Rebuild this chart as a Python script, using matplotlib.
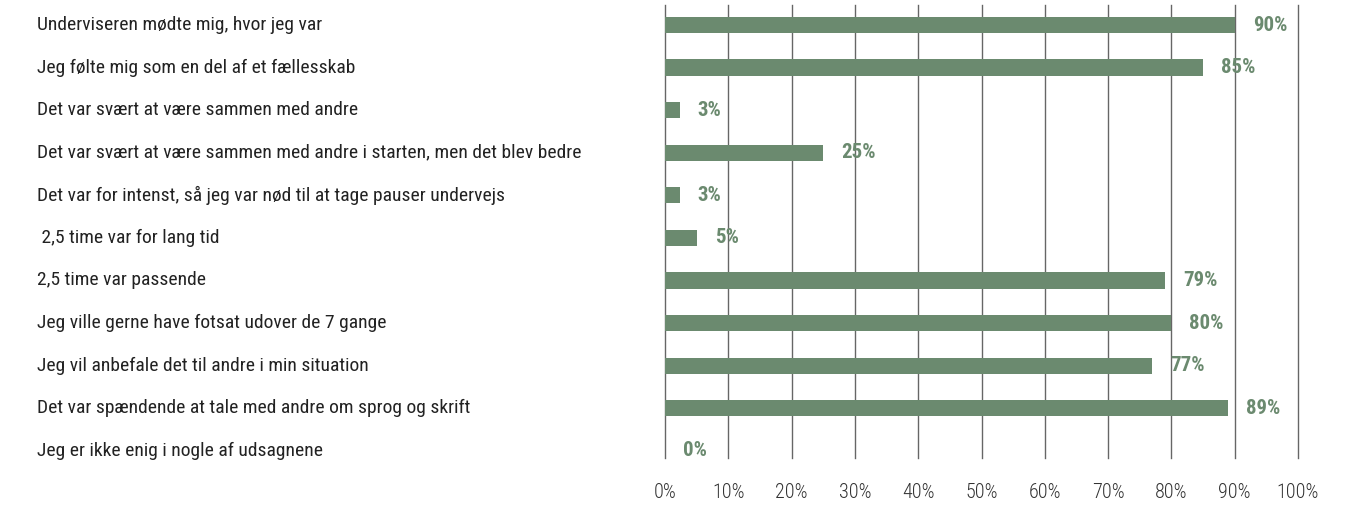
import matplotlib
matplotlib.use("Agg")
import matplotlib.pyplot as plt
import matplotlib.transforms as mtransforms
from matplotlib import font_manager

# pick a condensed face if one is installed
names = {f.name for f in font_manager.fontManager.ttflist}
cond = [n for n in ["Roboto Condensed", "Liberation Sans Narrow", "Open Sans Condensed"] if n in names]
plt.rcParams['font.family'] = cond + ['Roboto', 'DejaVu Sans']

# data
categories = [
    "Underviseren mødte mig, hvor jeg var",
    "Jeg følte mig som en del af et fællesskab",
    "Det var svært at være sammen med andre",
    "Det var svært at være sammen med andre i starten, men det blev bedre",
    "Det var for intenst, så jeg var nød til at tage pauser undervejs",
    " 2,5 time var for lang tid",
    "2,5 time var passende",
    "Jeg ville gerne have fotsat udover de 7 gange",
    "Jeg vil anbefale det til andre i min situation",
    "Det var spændende at tale med andre om sprog og skrift",
    "Jeg er ikke enig i nogle af udsagnene",
]
values = [90, 85, 2.3, 25, 2.3, 5, 79, 80, 77, 89, 0]
value_labels = ["90%", "85%", "3%", "25%", "3%", "5%", "79%", "80%", "77%", "89%", "0%"]
xticks = [0, 10, 20, 30, 40, 50, 60, 70, 80, 90, 100]

green = "#6b8a6f"

fig = plt.figure(figsize=(13.5, 5.05), dpi=100)
ax = fig.add_axes([665/1350, 1-458/505, 633/1350, 453/505])

y = list(range(len(categories)))
ax.barh(y, values, height=0.38, color=green, zorder=3)

for yi, v, lab in zip(y, values, value_labels):
    ax.annotate(lab, (v, yi), xytext=(13, 0), textcoords="offset points",
                ha="left", va="center", color=green, fontsize=15,
                fontweight="bold", zorder=4)

ax.set_xlim(0, 100)
ax.set_ylim(10.17, -0.47)
ax.set_xticks(xticks)
ax.set_xticklabels([f"{t}%" for t in xticks], fontsize=14.5, color="#333333",
                   fontweight="light")
ax.tick_params(axis="x", length=0, pad=18)
ax.set_yticks([])
for t in xticks:
    ax.axvline(t, color="#666666", linewidth=1, zorder=1, clip_on=False)
for s in ax.spines.values():
    s.set_visible(False)

# category labels, left aligned at the figure edge
trans = mtransforms.blended_transform_factory(fig.transFigure, ax.transData)
for yi, c in zip(y, categories):
    ax.text(37/1350, yi, c, transform=trans, ha="left", va="center",
            fontsize=14, color="#222222")

fig.savefig("out.png", dpi=100)
